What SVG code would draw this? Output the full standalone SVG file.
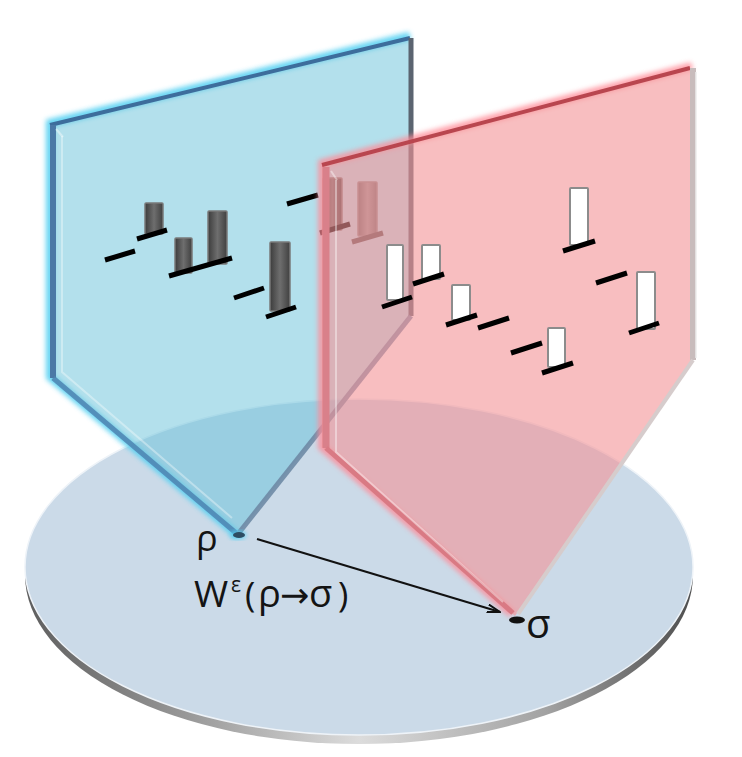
<svg xmlns="http://www.w3.org/2000/svg" width="742" height="757" viewBox="0 0 742 757">
  <defs>
    <filter id="glow" x="-20%" y="-20%" width="140%" height="140%">
      <feGaussianBlur stdDeviation="2.5"/>
    </filter>
    <linearGradient id="rimGrad" x1="0" y1="0" x2="1" y2="0">
      <stop offset="0" stop-color="#5e5e5e"/>
      <stop offset="0.25" stop-color="#9a9a9a"/>
      <stop offset="0.5" stop-color="#dcdcdc"/>
      <stop offset="0.78" stop-color="#a2a2a2"/>
      <stop offset="1" stop-color="#4e4e4e"/>
    </linearGradient>
    <linearGradient id="darkBar" x1="0" y1="0" x2="1" y2="0">
      <stop offset="0" stop-color="#3c3c3c"/>
      <stop offset="0.5" stop-color="#6e6e6e"/>
      <stop offset="1" stop-color="#404040"/>
    </linearGradient>
    <linearGradient id="lightBar" x1="0" y1="0" x2="1" y2="0">
      <stop offset="0" stop-color="#6a6a6a"/>
      <stop offset="0.5" stop-color="#9a9a9a"/>
      <stop offset="1" stop-color="#707070"/>
    </linearGradient>
    <marker id="arrow" viewBox="0 0 14 10" refX="13" refY="5" markerWidth="14" markerHeight="10" markerUnits="userSpaceOnUse" orient="auto">
      <path d="M0,1 L13,5 L0,9" fill="none" stroke="#111" stroke-width="2"/>
    </marker>
    <style>
      .dbar { fill: url(#darkBar); stroke: #7a7a7a; stroke-width: 1.5; }
      .lbar { fill: url(#lightBar); stroke: #8a8a8a; stroke-width: 1.5; }
      .wbar { fill: #ffffff; stroke: #8c8c8c; stroke-width: 2; }
      .base { stroke: #000; stroke-width: 5; fill: none; }
      .lbl { font-family: "Open Sans", "DejaVu Sans", sans-serif; fill: #141414; }
      .glowB { fill: none; stroke: #55d0f2; stroke-width: 8; filter: url(#glow); opacity: 0.9; }
      .glowR { fill: none; stroke: #ff8a96; stroke-width: 8; filter: url(#glow); opacity: 0.8; }
    </style>
  </defs>

  <rect width="742" height="757" fill="#ffffff"/>

  <g id="disk">
    <ellipse cx="359" cy="575" rx="334" ry="169" fill="url(#rimGrad)"/>
    <ellipse cx="359" cy="567" rx="334" ry="168" fill="#cbdae8" stroke="#eef3f8" stroke-width="1.5"/>
  </g>

  <g id="blue-panel">
    <path class="glowB" d="M410,36 L50,123 L50,377 L237,535"/>
    <polygon points="50,125 410,38 410,316 237,535 50,377" fill="#67c1d9" fill-opacity="0.5"/>
    <line x1="50" y1="125" x2="410" y2="38" stroke="#3d6d9c" stroke-width="4"/>
    <line x1="53" y1="125" x2="53" y2="378" stroke="#4a78a6" stroke-width="6"/>
    <line x1="53" y1="378" x2="236" y2="533" stroke="#4e84b2" stroke-width="5" stroke-opacity="0.85"/>
    <line x1="411" y1="38" x2="411" y2="316" stroke="#5b6470" stroke-width="5"/>
    <line x1="411" y1="316" x2="238" y2="534" stroke="#6e8aa5" stroke-width="5" stroke-opacity="0.9"/>
    <path d="M62,136 L62,372 L232,518" fill="none" stroke="#ffffff" stroke-opacity="0.35" stroke-width="2"/>
    <path d="M56,129 L63,137" stroke="#ffffff" stroke-opacity="0.4" stroke-width="2"/>
    <line class="base" x1="105" y1="260" x2="135" y2="251"/>
    <rect class="dbar" x="145" y="203" width="18" height="31" rx="1"/>
    <line class="base" x1="137" y1="239" x2="167" y2="230"/>
    <rect class="dbar" x="175" y="238" width="17" height="35" rx="1"/>
    <rect class="dbar" x="208" y="211" width="19" height="53" rx="1"/>
    <line class="base" x1="169" y1="276" x2="232" y2="258"/>
    <line class="base" x1="234" y1="298" x2="264" y2="288"/>
    <rect class="dbar" x="270" y="242" width="20" height="69" rx="1"/>
    <line class="base" x1="266" y1="317" x2="296" y2="307"/>
    <line class="base" x1="287" y1="204" x2="318" y2="195"/>
    <rect class="dbar" x="323" y="178" width="19" height="52" rx="1"/>
    <line class="base" x1="320" y1="233" x2="350" y2="224"/>
    <rect class="lbar" x="358" y="182" width="19" height="54" rx="1"/>
    <line x1="352" y1="242" x2="383" y2="233" stroke="#555" stroke-width="5"/>
  </g>

  <g id="red-panel">
    <path class="glowR" d="M692,66 L322,163 L322,447 L512,614"/>
    <polygon points="322,165 690,68 692,360 515,616 322,447" fill="#f39396" fill-opacity="0.6"/>
    <line x1="322" y1="165" x2="690" y2="68" stroke="#b9464f" stroke-width="4"/>
    <line x1="326" y1="167" x2="326" y2="448" stroke="#d9808a" stroke-width="7"/>
    <line x1="326" y1="448" x2="513" y2="613" stroke="#d97a84" stroke-width="5"/>
    <line x1="693" y1="68" x2="693" y2="360" stroke="#c8bcbc" stroke-width="6"/>
    <line x1="696" y1="72" x2="696" y2="358" stroke="#ececec" stroke-width="1.5"/>
    <line x1="693" y1="360" x2="518" y2="614" stroke="#d6cccc" stroke-width="4"/>
    <path d="M336,180 L336,452 L503,602" fill="none" stroke="#ffffff" stroke-opacity="0.4" stroke-width="2"/>
    <path d="M331,171 L337,180" stroke="#ffffff" stroke-opacity="0.4" stroke-width="2"/>
    <rect class="wbar" x="387" y="245" width="16" height="55" rx="1"/>
    <line class="base" x1="382" y1="307" x2="412" y2="297"/>
    <rect class="wbar" x="422" y="245" width="18" height="34" rx="1"/>
    <line class="base" x1="413" y1="284" x2="444" y2="274"/>
    <rect class="wbar" x="452" y="285" width="18" height="35" rx="1"/>
    <line class="base" x1="446" y1="325" x2="477" y2="315"/>
    <line class="base" x1="478" y1="328" x2="509" y2="318"/>
    <line class="base" x1="511" y1="353" x2="542" y2="343"/>
    <rect class="wbar" x="548" y="328" width="17" height="39" rx="1"/>
    <line class="base" x1="542" y1="373" x2="573" y2="363"/>
    <rect class="wbar" x="570" y="188" width="18" height="57" rx="1"/>
    <line class="base" x1="563" y1="251" x2="595" y2="241"/>
    <line class="base" x1="596" y1="283" x2="627" y2="273"/>
    <rect class="wbar" x="637" y="272" width="18" height="57" rx="1"/>
    <line class="base" x1="629" y1="333" x2="659" y2="323"/>
  </g>

  <g id="rho-point">
    <ellipse cx="238" cy="535" rx="8" ry="4" fill="#55d0f2" filter="url(#glow)"/>
    <ellipse cx="239" cy="535" rx="6" ry="3" fill="#2d4d63"/>
  </g>
  <g id="sigma-point">
    <ellipse cx="517" cy="620" rx="8" ry="3.5" fill="#111"/>
  </g>

  <g id="connectors">
    <line x1="257" y1="539" x2="500" y2="612" stroke="#111" stroke-width="2.2" marker-end="url(#arrow)"/>
  </g>

  <g id="labels">
    <text class="lbl" x="196" y="551" font-size="36">ρ</text>
    <text class="lbl" x="526" y="638" font-size="40">σ</text>
    <text class="lbl" y="607"><tspan x="194" font-size="37">W</tspan><tspan x="231" y="592" font-size="21">ε</tspan><tspan x="245" y="607" font-size="35">(</tspan><tspan x="258" font-size="38">ρ</tspan><tspan x="280" font-size="35">→</tspan><tspan x="309" font-size="38">σ</tspan><tspan x="338" font-size="35">)</tspan></text>
  </g>
</svg>
